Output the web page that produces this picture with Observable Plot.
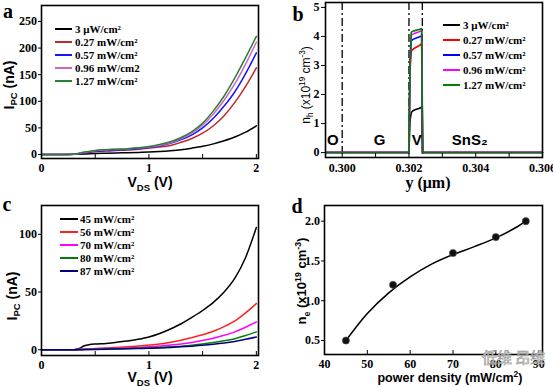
<!DOCTYPE html>
<html><head><meta charset="utf-8">
<script src="https://cdn.jsdelivr.net/npm/d3@7"></script>
<script src="https://cdn.jsdelivr.net/npm/@observablehq/plot@0.6"></script>
<style>
html,body{margin:0;padding:0;background:#fff;}
#root{position:relative;width:553px;height:387px;overflow:hidden;background:#fff;}
#root svg{position:absolute;overflow:visible;}
</style></head><body><div id="root"></div>
<script>
// ---------------- Panel a : I_PC vs V_DS (low power) ----------------
const vdsA = [0,0.1,0.2,0.3,0.4,0.5,0.6,0.7,0.8,0.9,1.0,1.1,1.2,1.3,1.4,1.5,1.6,1.7,1.8,1.9,2.0];
const seriesA = ["3 μW/cm²","0.27 mW/cm²","0.57 mW/cm²","0.96 mW/cm2","1.27 mW/cm²"];
const colorsA = ["#000000","#c0282c","#1515ff","#cc66cc","#2e7d32"];
const ipcA_3uW  = [0,0,0,0.3,1,2,2.5,3,3.5,4,4.5,5.5,7,9,12,15.5,20,26,33,42,54];
const ipcA_027  = [0,0,0,0.5,3,5,6.5,7.5,8.5,10,12,14,17,23,30,40,54,73,98,128,163];
const ipcA_057  = [0,0,0,0.5,3.5,6,7.5,8.5,9.5,11,13,16,21,28,37,50,68,91,118,152,191];
const ipcA_096  = [0,0,0,0.5,4,7,8.5,9.5,10.5,12,14,17,22,30,40,55,76,102,133,170,211];
const ipcA_127  = [0,0,0,0.6,4.5,7.5,9,10,11,12.5,15,19,24,32,43,59,82,110,144,182,222];
const ipcA = [ipcA_3uW, ipcA_027, ipcA_057, ipcA_096, ipcA_127];
const xTicksA = [0,1,2], xMinorA = [0,0.5,1,1.5,2], yTicksA = [0,50,100,150,200,250];

// ---------------- Panel b : hole density profile ----------------
const yPosB = [0.2995,0.30200,0.30203,0.30207,0.30212,0.3022,0.3023,0.30238,0.30241,0.306];
const seriesB = ["3 μW/cm²","0.27 mW/cm²","0.57 mW/cm²","0.96 mW/cm²","1.27 mW/cm²"];
const colorsB = ["#000000","#ff0000","#0000ff","#ff00ff","#008000"];
const nhB_3uW = [0,0,1.1,1.38,1.44,1.48,1.52,1.57,0,0];
const nhB_027 = [0,0,2.8,3.5,3.56,3.62,3.68,3.75,0,0];
const nhB_057 = [0,0,3.0,3.85,3.9,3.94,3.98,4.02,0,0];
const nhB_096 = [0,0,3.1,4.05,4.08,4.12,4.16,4.2,0,0];
const nhB_127 = [0,0,3.2,4.15,4.18,4.21,4.24,4.27,0,0];
const nhB = [nhB_3uW, nhB_027, nhB_057, nhB_096, nhB_127];
const boundariesB = [0.300, 0.302, 0.3024];
const regionNamesB = ["O","G","V","SnS₂"];
const regionXB = [0.29972, 0.30112, 0.30223, 0.30382];
const regionYB = [0.42, 0.42, 0.42, 0.42];
const xTicksB = [0.300,0.302,0.304,0.306], xMinorB = [0.300,0.301,0.302,0.303,0.304,0.305,0.306], yTicksB = [0,1,2,3,4,5];

// ---------------- Panel c : I_PC vs V_DS (high power) ----------------
const vdsC = [0,0.1,0.2,0.3,0.35,0.4,0.45,0.5,0.6,0.7,0.8,0.9,1.0,1.1,1.2,1.3,1.4,1.5,1.6,1.7,1.8,1.9,2.0];
const seriesC = ["45 mW/cm²","56 mW/cm²","70 mW/cm²","80 mW/cm²","87 mW/cm²"];
const colorsC = ["#000000","#ff2020","#ff00ff","#008000","#000080"];
const ipcC_45 = [0,0,0,0,1,3.5,4.5,5,5.5,6.5,7.5,9,11,14,18,22.5,28,34,41,50,62,80,106];
const ipcC_56 = [0,0,0,0,0.2,0.5,0.7,1,1.5,2,2.5,3.2,4,5,6.5,8.2,10.5,13,16,20,25,32,40];
const ipcC_70 = [0,0,0,0,0.1,0.3,0.5,0.7,1,1.3,1.6,2,2.5,3.2,4,5,6.3,8,10,12.5,15.5,19.5,24];
const ipcC_80 = [0,0,0,0,0.1,0.2,0.3,0.4,0.6,0.8,1,1.3,1.6,2,2.5,3.1,3.9,4.9,6.2,7.7,9.6,12.3,15.5];
const ipcC_87 = [0,0,0,0,0,0.1,0.2,0.3,0.5,0.7,0.9,1.1,1.3,1.6,2,2.5,3.1,3.8,4.7,5.8,7.2,9,11];
const ipcC = [ipcC_45, ipcC_56, ipcC_70, ipcC_80, ipcC_87];
const xTicksC = [0,1,2], xMinorC = [0,0.5,1,1.5,2], yTicksC = [0,50,100];

// ---------------- Panel d : n_e vs power density ----------------
const powerD = [45,56,70,80,87];
const neD = [0.5,1.2,1.6,1.8,2.0];
const fitPowerD = [45,50,55,60,65,70,75,80,85,87];
const fitNeD = [0.5,0.84,1.1,1.3,1.46,1.58,1.68,1.79,1.93,2.0];
const xTicksD = [40,50,60,70,80,90], yTicksD = [0.5,1.0,1.5,2.0];

// ---------------- helpers ----------------
const root = document.getElementById("root");
const SERIF = "'Liberation Serif','Times New Roman',serif";
const SANS = "'Liberation Sans',Arial,sans-serif";
const baseStyle = {fontFamily: SERIF, fontWeight: "bold", fontSize: "12px", background: "transparent", overflow: "visible", color: "#000"};

function toRows(xs, ys, names) {
  return names.flatMap((s, i) => xs.map((x, j) => ({x, y: ys[i][j], s})));
}
function axes(xMajor, xMinor, yMajor, o = {}) {
  return [
    Plot.axisY(yMajor, {tickSize: o.ytick ?? 3, tickPadding: o.ypad ?? 1.5, tickFormat: o.yfmt, label: null, fontSize: 12}),
    Plot.axisX(xMajor, {tickSize: 0, tickPadding: o.xpad ?? 5, tickFormat: o.xfmt, label: null, fontSize: 12}),
    Plot.axisX(xMinor, {tickSize: -4, fill: "none", label: null}),
    Plot.frame({strokeWidth: 1.6})
  ];
}
function place(svg, left, top) { svg.style.left = left + "px"; svg.style.top = top + "px"; root.appendChild(svg); }

// ---------------- Panel a ----------------
place(Plot.plot({
  width: 276, height: 195, marginLeft: 41, marginRight: 18, marginTop: 5, marginBottom: 37,
  x: {domain: [0, 2.02]}, y: {domain: [-7.5, 280]},
  color: {domain: seriesA, range: colorsA},
  style: baseStyle,
  marks: [
    Plot.line(toRows(vdsA, ipcA, seriesA), {x: "x", y: "y", z: "s", stroke: "s", curve: "monotone-x", strokeWidth: 1.5}),
    ...axes(xTicksA, xMinorA, yTicksA, {xfmt: d3.format("d")})
  ]
}), 0, 0);

// ---------------- Panel b ----------------
place(Plot.plot({
  width: 277, height: 195, marginLeft: 49, marginRight: 11, marginTop: 2, marginBottom: 38,
  x: {domain: [0.2995, 0.306]}, y: {domain: [-0.17, 5.17]},
  color: {domain: seriesB, range: colorsB},
  style: baseStyle,
  marks: [
    Plot.ruleX(boundariesB, {stroke: "#000", strokeWidth: 1.3, strokeDasharray: "8,3,2,3"}),
    Plot.line(toRows(yPosB, nhB, seriesB), {x: "x", y: "y", z: "s", stroke: "s", strokeWidth: 1.6}),
    Plot.text(regionNamesB, {x: (d, i) => regionXB[i], y: (d, i) => regionYB[i], text: d => d,
      fontFamily: SANS, fontWeight: "bold", fontSize: 15, fill: "#000"}),
    ...axes(xTicksB, xMinorB, yTicksB, {xfmt: d3.format(".3f"), yfmt: d3.format("d"), ytick: 4, ypad: 2, xpad: 6})
  ]
}), 276, 0);

// ---------------- Panel c ----------------
place(Plot.plot({
  width: 276, height: 192, marginLeft: 41, marginRight: 18, marginTop: 10, marginBottom: 32,
  x: {domain: [0, 2.02]}, y: {domain: [-5, 125]},
  color: {domain: seriesC, range: colorsC},
  style: baseStyle,
  marks: [
    Plot.line(toRows(vdsC, ipcC, seriesC), {x: "x", y: "y", z: "s", stroke: "s", curve: "monotone-x", strokeWidth: 1.5}),
    ...axes(xTicksC, xMinorC, yTicksC, {xfmt: d3.format("d")})
  ]
}), 0, 195);

// ---------------- Panel d ----------------
place(Plot.plot({
  width: 277, height: 192, marginLeft: 48, marginRight: 11, marginTop: 10, marginBottom: 33,
  x: {domain: [40, 90.9]}, y: {domain: [0.324, 2.197]},
  style: baseStyle,
  marks: [
    Plot.line(fitPowerD, {x: d => d, y: (d, i) => fitNeD[i], curve: "catmull-rom", stroke: "#000", strokeWidth: 1.6}),
    Plot.dot(powerD, {x: d => d, y: (d, i) => neD[i], r: 3.6, fill: "#111", stroke: "#555", strokeWidth: 0.6}),
    ...axes(xTicksD, xTicksD, yTicksD, {xfmt: d3.format("d"), yfmt: d3.format(".1f")})
  ]
}), 276, 195);

// ---------------- overlay: panel letters, axis titles, legends ----------------
const ov = d3.select(root).append("svg").attr("width", 553).attr("height", 387)
  .style("left", "0px").style("top", "0px").style("pointer-events", "none");

function rich(x, y, parts, {size = 14, family = SANS, weight = "bold", rotate = false, anchor = "middle", fill = "#000"} = {}) {
  const t = ov.append("text")
    .attr("transform", `translate(${x},${y})` + (rotate ? " rotate(-90)" : ""))
    .attr("text-anchor", anchor).attr("font-family", family).attr("font-weight", weight)
    .attr("font-size", size).attr("fill", fill);
  let cur = 0;
  for (const [txt, kind] of parts) {
    const target = kind === "sub" ? 0.28 * size : kind === "sup" ? -0.38 * size : 0;
    t.append("tspan").text(txt).attr("dy", target - cur)
      .attr("font-size", kind ? size * 0.68 : size);
    cur = target;
  }
  return t;
}

// panel letters
const letters = ["a", "b", "c", "d"];
const letterPos = [[8, 18], [298, 21], [7, 211], [297, 213]];
letters.forEach((l, i) => rich(letterPos[i][0], letterPos[i][1], [[l]], {size: 20, family: SERIF}));

// axis titles
rich(13.5, 85, [["I"], ["PC", "sub"], [" (nA)"]], {size: 14, rotate: true});
rich(150, 187, [["V"], ["DS", "sub"], [" (V)"]], {size: 14});
rich(309.5, 85, [["n"], ["h", "sub"], [" (x10"], ["19", "sup"], [" cm"], ["-3", "sup"], [")"]], {size: 12, weight: "normal", rotate: true});
rich(428, 188, [["y (μm)"]], {size: 16, family: SERIF});
rich(16.5, 296, [["I"], ["PC", "sub"], [" (nA)"]], {size: 14, rotate: true});
rich(150, 382, [["V"], ["DS", "sub"], [" (V)"]], {size: 14});
rich(306, 281, [["n"], ["e", "sub"], [" (x10"], ["19", "sup"], [" cm"], ["-3", "sup"], [")"]], {size: 13, rotate: true});
rich(450, 382, [["power density (mW/cm"], ["2", "sup"], [")"]], {size: 12.5});

// legends
function legend(names, colors, {x1, x2, tx, y0, dy}) {
  names.forEach((n, i) => {
    const y = y0 + i * dy;
    ov.append("line").attr("x1", x1).attr("x2", x2).attr("y1", y).attr("y2", y)
      .attr("stroke", colors[i]).attr("stroke-width", 2);
    ov.append("text").attr("x", tx).attr("y", y + 4).attr("font-family", SERIF)
      .attr("font-weight", "bold").attr("font-size", 11).text(n);
  });
}
legend(seriesA, colorsA, {x1: 55, x2: 72, tx: 75, y0: 29, dy: 13});
legend(seriesB, colorsB, {x1: 443, x2: 460, tx: 463, y0: 25, dy: 15});
legend(seriesC, colorsC, {x1: 60, x2: 78, tx: 80, y0: 219, dy: 13});

// watermark
ov.append("text").attr("x", 482).attr("y", 363).attr("font-family", "'Noto Sans CJK SC',sans-serif")
  .attr("font-size", 15).attr("fill", "rgba(255,255,255,0.7)").attr("stroke", "#999").attr("stroke-width", 0.7)
  .text("低维 昂维");
</script></body></html>
